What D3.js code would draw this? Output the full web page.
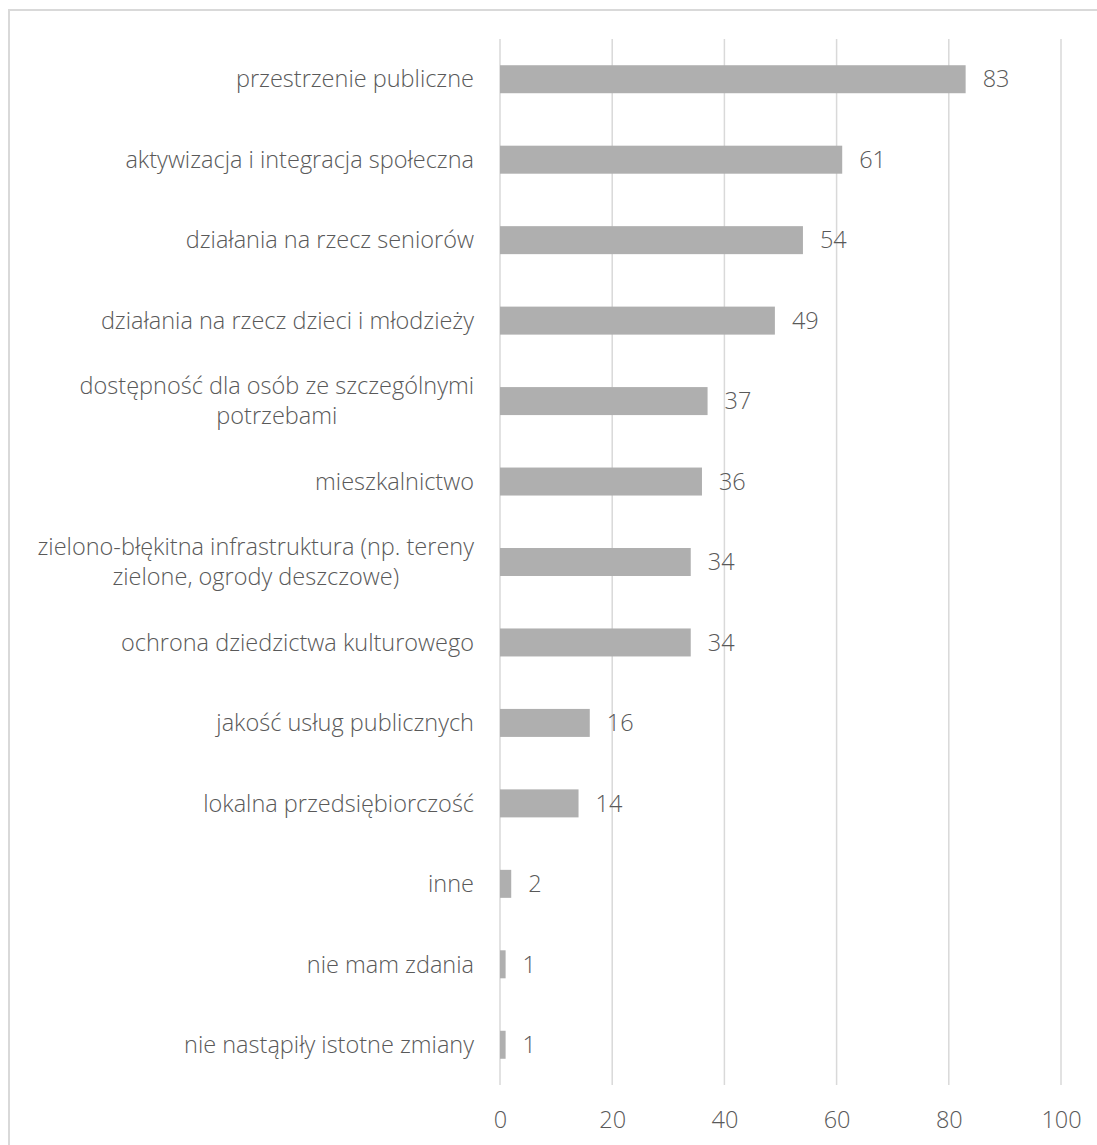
<!DOCTYPE html>
<html>
<head>
<meta charset="utf-8">
<script src="https://cdn.jsdelivr.net/npm/d3@7"></script>
<style>
  html, body { margin: 0; padding: 0; background: #fff; }
  svg { display: block; }
  text { font-family: "Open Sans", "Noto Sans", sans-serif; font-weight: 300; fill: #595959; }
</style>
</head>
<body>
<svg id="chart" width="1097" height="1145"></svg>
<script>
// Survey answers (category labels) and number of responses
const categories = [
  "przestrzenie publiczne",
  "aktywizacja i integracja społeczna",
  "działania na rzecz seniorów",
  "działania na rzecz dzieci i młodzieży",
  "dostępność dla osób ze szczególnymi potrzebami",
  "mieszkalnictwo",
  "zielono-błękitna infrastruktura (np. tereny zielone, ogrody deszczowe)",
  "ochrona dziedzictwa kulturowego",
  "jakość usług publicznych",
  "lokalna przedsiębiorczość",
  "inne",
  "nie mam zdania",
  "nie nastąpiły istotne zmiany"
];
const values = [83, 61, 54, 49, 37, 36, 34, 34, 16, 14, 2, 1, 1];
const xTicks = [0, 20, 40, 60, 80, 100];

const svg = d3.select("#chart");
const fontSize = 23.5;
const plot = { left: 500, right: 1061, top: 39, bottom: 1085 };

// Outer chart frame
svg.append("rect")
  .attr("x", 9).attr("y", 10)
  .attr("width", 1110).attr("height", 1160)
  .attr("fill", "none")
  .attr("stroke", "#d9d9d9")
  .attr("stroke-width", 2);

const x = d3.scaleLinear().domain([0, 100]).range([plot.left, plot.right]);
const y = d3.scaleBand()
  .domain(categories)
  .range([plot.top, plot.bottom])
  .paddingInner(0.652)
  .paddingOuter(0.326);

// Vertical gridlines
svg.append("g")
  .selectAll("line")
  .data(xTicks)
  .join("line")
  .attr("x1", d => x(d)).attr("x2", d => x(d))
  .attr("y1", plot.top).attr("y2", plot.bottom)
  .attr("stroke", "#d9d9d9")
  .attr("stroke-width", 1.5);

// X axis tick labels
const xAxis = d3.axisBottom(x).tickValues(xTicks).tickSize(0).tickPadding(0);
const xg = svg.append("g")
  .attr("transform", `translate(0,${plot.bottom})`)
  .call(xAxis);
xg.select(".domain").remove();
xg.attr("font-family", null).attr("font-size", null);
xg.selectAll("text")
  .attr("y", 35)
  .attr("dy", "0.35em")
  .attr("fill", "#595959")
  .attr("font-size", fontSize);

// Bars
svg.append("g")
  .selectAll("rect")
  .data(categories)
  .join("rect")
  .attr("x", x(0))
  .attr("y", d => y(d))
  .attr("width", (d, i) => x(values[i]) - x(0))
  .attr("height", y.bandwidth())
  .attr("fill", "#afafaf");

// Value labels at bar ends
svg.append("g")
  .selectAll("text")
  .data(categories)
  .join("text")
  .attr("x", (d, i) => x(values[i]) + 17)
  .attr("y", d => y(d) + y.bandwidth() / 2)
  .attr("dy", "0.35em")
  .attr("font-size", fontSize)
  .text((d, i) => values[i]);

// Category labels, wrapped to a maximum width and centred as a block
const maxLabelWidth = 462;
const lineHeight = 30;
const labelRight = 474;
const labelG = svg.append("g");

categories.forEach(cat => {
  const t = labelG.append("text").attr("font-size", fontSize);
  // Break into lines that fit the label width
  const words = cat.split(" ");
  const lines = [];
  let cur = [];
  const probe = t.append("tspan");
  words.forEach(w => {
    const trial = cur.concat(w).join(" ");
    probe.text(trial);
    if (probe.node().getComputedTextLength() > maxLabelWidth && cur.length) {
      lines.push(cur.join(" "));
      cur = [w];
    } else {
      cur.push(w);
    }
  });
  lines.push(cur.join(" "));
  probe.remove();

  // Widest line sets the block, other lines are centred within it
  const widths = lines.map(l => {
    const s = t.append("tspan").text(l);
    const wd = s.node().getComputedTextLength();
    s.remove();
    return wd;
  });
  const blockW = d3.max(widths);
  const cx = labelRight - blockW / 2;
  const cy = y(cat) + y.bandwidth() / 2;
  const y0 = cy - (lines.length - 1) * lineHeight / 2;
  lines.forEach((l, i) => {
    t.append("tspan")
      .attr("x", cx)
      .attr("y", y0 + i * lineHeight)
      .attr("dy", "0.35em")
      .attr("text-anchor", "middle")
      .text(l);
  });
});
</script>
</body>
</html>
